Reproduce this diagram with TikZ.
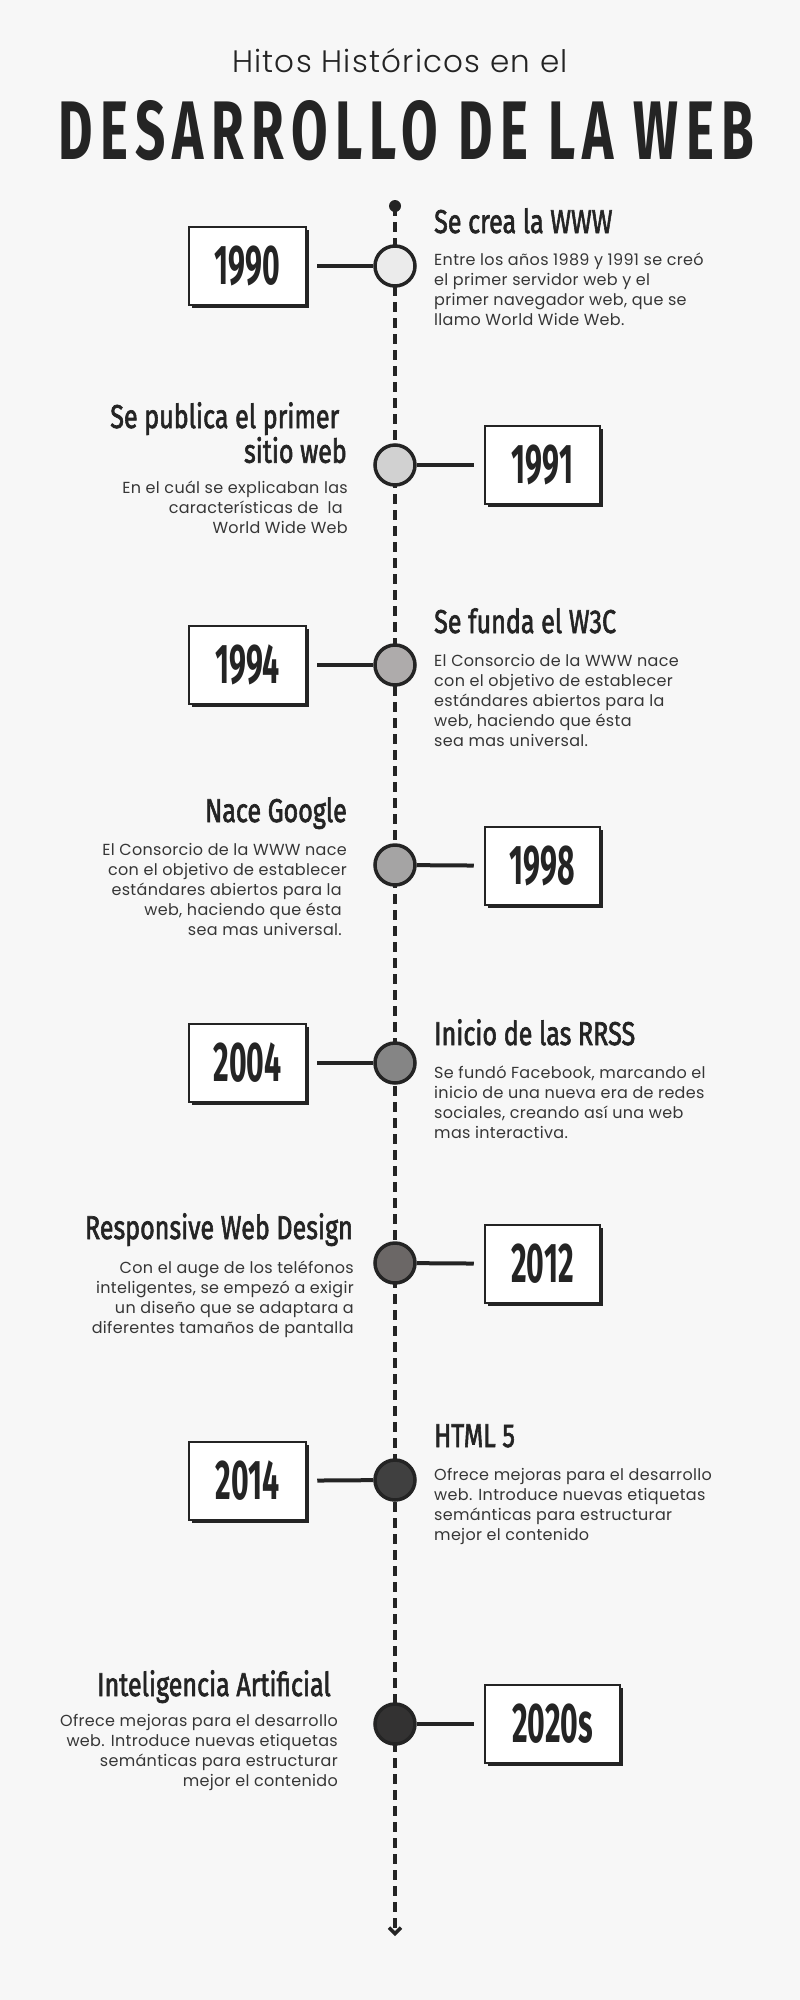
\documentclass[tikz,border=0pt]{standalone}
\usepackage{fontspec}
\usepackage{graphicx}
\usetikzlibrary{shadows,arrows.meta}
\setmainfont{Poppins}
\newfontfamily\bodyfont{Poppins}[LetterSpace=2]
\newfontfamily\thinfont{Poppins Light}[LetterSpace=4]
\newfontfamily\headfont{Fira Sans}
\newfontfamily\hdfont{Fira Sans}[FakeBold=2.2]
\definecolor{bg}{HTML}{F7F7F7}
\definecolor{ink}{HTML}{242424}
\definecolor{txt}{HTML}{363636}
\definecolor{f1}{HTML}{EBEBEB}
\definecolor{f2}{HTML}{D1D1D1}
\definecolor{f3}{HTML}{AEABAB}
\definecolor{f4}{HTML}{A5A4A4}
\definecolor{f5}{HTML}{858585}
\definecolor{f6}{HTML}{6B6766}
\definecolor{f7}{HTML}{404040}
\definecolor{f8}{HTML}{333232}
\newcommand\hd[1]{\scalebox{0.76}[1]{\hdfont\fontsize{33}{30}\selectfont #1}}
\newcommand\yr[1]{\scalebox{0.54}[1]{\headfont\bfseries\fontsize{56}{56}\selectfont #1}}
\newcommand\txtL[1]{\begin{tabular}[t]{@{}l@{}}#1\end{tabular}}
\newcommand\txtR[1]{\begin{tabular}[t]{@{}r@{}}#1\end{tabular}}
\tikzset{
  yearbox/.style={draw=ink, line width=2.5pt, fill=white, minimum height=78pt,
    minimum width=117pt, inner sep=0pt, text=ink,
    drop shadow={shadow xshift=3pt, shadow yshift=-3pt, fill=ink, opacity=1}},
  dotnode/.style={circle, draw=ink, line width=3.5pt, minimum size=40pt, inner sep=0pt},
  conn/.style={draw=ink, line width=4pt},
  timeline/.style={draw=ink, line width=3.5pt, dash pattern=on 10pt off 6pt},
  hdR/.style={anchor=base west, inner sep=0pt, text=ink},
  hdL/.style={anchor=base east, inner sep=0pt, text=ink},
  bodyR/.style={anchor=base west, inner sep=0pt, text=txt, font=\bodyfont\fontsize{16}{20}\selectfont},
  bodyL/.style={anchor=base east, inner sep=0pt, text=txt, font=\bodyfont\fontsize{16}{20}\selectfont},
}
\begin{document}
\begin{tikzpicture}[x=1pt,y=-1pt]
\fill[bg] (0,0) rectangle (800,2000);
\useasboundingbox (0,0) rectangle (800,2000);

% titles
\node[anchor=base, inner sep=0pt, text=ink] (sub) at (400,72)
  {\thinfont\fontsize{31}{31}\selectfont Hitos Históricos en el};
\node[anchor=base, inner sep=0pt, text=ink] (title) at (406.5,159)
  {\resizebox{695pt}{59pt}{\headfont\bfseries\addfontfeature{LetterSpace=14}DESARROLLO DE LA WEB}};

% timeline
\coordinate (top) at (395,206);
\coordinate (end) at (395,1936);
\draw[timeline, -{Straight Barb[length=6pt,width=12pt]}] (top) -- (end);
\node[circle, fill=ink, minimum size=12pt, inner sep=0pt] (topdot) at (top) {};

% 1990
\node[dotnode, fill=f1] (c1) at (395,266) {};
\node[yearbox] (b1) at (247.5,266) {\yr{1990}};
\draw[conn, shorten <=10pt] (b1) -- (c1);
\node[hdR] (h1) at (434,233) {\hd{Se crea la WWW}};
\node[bodyR] (t1) at (434,265) {\txtL{Entre los años 1989 y 1991 se creó\\el primer servidor web y el\\primer navegador web, que se\\llamo World Wide Web.}};

% 1991
\node[dotnode, fill=f2] (c2) at (395,465) {};
\node[yearbox, minimum width=115pt] (b2) at (542.5,465) {\yr{1991}};
\draw[conn, shorten >=10pt] (c2) -- (b2);
\node[hdL] (h2) at (347,428) {\hd{\txtR{Se publica el primer\hspace*{0.3em}\\sitio web}}};
\node[bodyL] (t2) at (348,493) {\txtR{En el cuál se explicaban las\\características de\ \ la\hspace*{5pt}\\World Wide Web}};

% 1994
\node[dotnode, fill=f3] (c3) at (395,665) {};
\node[yearbox] (b3) at (247.5,665) {\yr{1994}};
\draw[conn, shorten <=10pt] (b3) -- (c3);
\node[hdR] (h3) at (434,633) {\hd{Se funda el W3C}};
\node[bodyR] (t3) at (434,666) {\txtL{El Consorcio de la WWW nace\\con el objetivo de establecer\\estándares abiertos para la\\web, haciendo que ésta\\sea mas universal.}};

% 1998
\node[dotnode, fill=f4] (c4) at (395,865) {};
\node[yearbox, minimum width=115pt] (b4) at (542.5,866) {\yr{1998}};
\draw[conn, shorten >=10pt] (c4) -- (b4);
\node[hdL] (h4) at (347,822) {\hd{Nace Google}};
\node[bodyL] (t4) at (347,855) {\txtR{El Consorcio de la WWW nace\\con el objetivo de establecer\\estándares abiertos para la\hspace*{5pt}\\web, haciendo que ésta\hspace*{5pt}\\sea mas universal.\hspace*{5pt}}};

% 2004
\node[dotnode, fill=f5] (c5) at (395,1063) {};
\node[yearbox] (b5) at (247.5,1063) {\yr{2004}};
\draw[conn, shorten <=10pt] (b5) -- (c5);
\node[hdR] (h5) at (434,1045) {\hd{Inicio de las RRSS}};
\node[bodyR] (t5) at (434,1078) {\txtL{Se fundó Facebook, marcando el\\inicio de una nueva era de redes\\sociales, creando así una web\\mas interactiva.}};

% 2012
\node[dotnode, fill=f6] (c6) at (395,1263) {};
\node[yearbox, minimum width=115pt] (b6) at (542.5,1264) {\yr{2012}};
\draw[conn, shorten >=10pt] (c6) -- (b6);
\node[hdL] (h6) at (353,1239) {\hd{Responsive Web Design}};
\node[bodyL] (t6) at (354,1273) {\txtR{Con el auge de los teléfonos\\inteligentes, se empezó a exigir\\un diseño que se adaptara a\\diferentes tamaños de pantalla}};

% 2014
\node[dotnode, fill=f7] (c7) at (395,1480) {};
\node[yearbox] (b7) at (247.5,1481) {\yr{2014}};
\draw[conn, shorten <=10pt] (b7) -- (c7);
\node[hdR] (h7) at (434,1447) {\hd{HTML 5}};
\node[bodyR] (t7) at (434,1480) {\txtL{Ofrece mejoras para el desarrollo\\web. Introduce nuevas etiquetas\\semánticas para estructurar\\mejor el contenido}};

% 2020s
\node[dotnode, fill=f8] (c8) at (395,1724) {};
\node[yearbox, minimum width=135pt] (b8) at (552.5,1724) {\yr{2020s}};
\draw[conn, shorten >=10pt] (c8) -- (b8);
\node[hdL] (h8) at (331,1696) {\hd{Inteligencia Artificial}};
\node[bodyL] (t8) at (338,1726) {\txtR{Ofrece mejoras para el desarrollo\\web. Introduce nuevas etiquetas\\semánticas para estructurar\\mejor el contenido}};
\end{tikzpicture}
\end{document}
